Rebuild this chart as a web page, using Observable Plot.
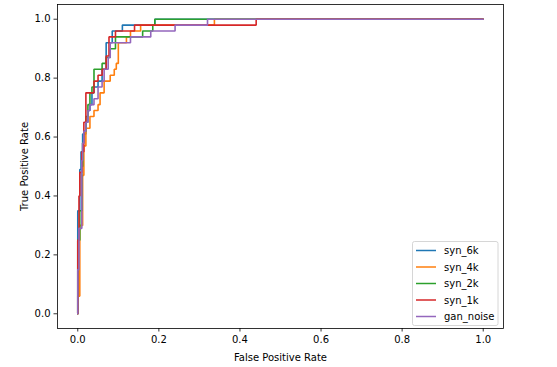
<!DOCTYPE html>
<html><head><meta charset="utf-8">
<script src="https://cdn.jsdelivr.net/npm/d3@7"></script>
<script src="https://cdn.jsdelivr.net/npm/@observablehq/plot@0.6"></script>
<style>body{margin:0;background:#fff}</style>
</head><body><div id="chart"></div>
<script>
const seriesNames = ["syn_6k", "syn_4k", "syn_2k", "syn_1k", "gan_noise"];
const seriesColors = ["#1f77b4", "#ff7f0e", "#2ca02c", "#d62728", "#9467bd"];
const tickValues = [0, 0.2, 0.4, 0.6, 0.8, 1.0];

const syn6kFpr = [0, 0, 0.005, 0.008, 0.012, 0.02, 0.025, 0.03, 0.035, 0.04, 0.05, 0.06, 0.07, 0.085, 0.11, 0.19, 1];
const syn6kTpr = [0, 0.35, 0.49, 0.55, 0.61, 0.65, 0.69, 0.71, 0.75, 0.77, 0.79, 0.83, 0.92, 0.96, 0.98, 1, 1];

const syn4kFpr = [0, 0, 0.005, 0.012, 0.015, 0.02, 0.03, 0.04, 0.05, 0.055, 0.065, 0.08, 0.09, 0.095, 0.1, 0.1, 0.12, 0.13, 0.155, 0.337, 1];
const syn4kTpr = [0, 0.06, 0.3, 0.47, 0.57, 0.63, 0.67, 0.69, 0.71, 0.75, 0.79, 0.81, 0.83, 0.85, 0.88, 0.92, 0.94, 0.96, 0.98, 1, 1];

const syn2kFpr = [0, 0, 0.005, 0.01, 0.012, 0.015, 0.02, 0.025, 0.03, 0.035, 0.04, 0.06, 0.07, 0.08, 0.093, 0.16, 0.185, 0.19, 1];
const syn2kTpr = [0, 0.25, 0.35, 0.5, 0.58, 0.62, 0.67, 0.71, 0.75, 0.77, 0.83, 0.85, 0.87, 0.9, 0.94, 0.96, 0.98, 1, 1];

const syn1kFpr = [0, 0, 0.003, 0.005, 0.01, 0.015, 0.02, 0.04, 0.05, 0.06, 0.07, 0.077, 0.093, 0.107, 0.14, 0.44, 1];
const syn1kTpr = [0, 0.25, 0.4, 0.48, 0.55, 0.65, 0.75, 0.79, 0.81, 0.83, 0.875, 0.94, 0.96, 0.96, 0.98, 1, 1];

const ganNoiseFpr = [0, 0, 0.003, 0.01, 0.012, 0.015, 0.02, 0.025, 0.03, 0.04, 0.05, 0.06, 0.065, 0.075, 0.08, 0.13, 0.18, 0.24, 0.32, 1];
const ganNoiseTpr = [0, 0.15, 0.29, 0.52, 0.58, 0.62, 0.65, 0.69, 0.71, 0.73, 0.77, 0.79, 0.83, 0.87, 0.92, 0.94, 0.96, 0.98, 1, 1];

const series = [
  {name: "syn_6k", fpr: syn6kFpr, tpr: syn6kTpr},
  {name: "syn_4k", fpr: syn4kFpr, tpr: syn4kTpr},
  {name: "syn_2k", fpr: syn2kFpr, tpr: syn2kTpr},
  {name: "syn_1k", fpr: syn1kFpr, tpr: syn1kTpr},
  {name: "gan_noise", fpr: ganNoiseFpr, tpr: ganNoiseTpr}
];
const tables = series.map(s => s.fpr.map((f, j) => ({name: s.name, fpr: f, tpr: s.tpr[j]})));

const fmt = d3.format(".1f");
const chart = Plot.plot({
  width: 557, height: 367,
  marginLeft: 57, marginRight: 54, marginTop: 4, marginBottom: 39,
  style: {fontFamily: "DejaVu Sans", fontSize: "10px", color: "#000", background: "#fff", overflow: "visible"},
  x: {domain: [-0.05, 1.05]},
  y: {domain: [-0.05, 1.05]},
  color: {domain: seriesNames, range: seriesColors},
  marks: [
    ...tables.map(t => Plot.line(t, {x: "fpr", y: "tpr", stroke: "name", curve: "step-after", strokeWidth: 1.6, strokeLinejoin: "miter"})),
    Plot.frame({stroke: "#000", strokeWidth: 0.8}),
    Plot.axisX({ticks: tickValues, tickFormat: fmt, tickSize: 3.5, tickPadding: 3.5, strokeWidth: 0.8, label: "False Positive Rate", labelAnchor: "center", labelArrow: "none", labelOffset: 32}),
    Plot.axisY({ticks: tickValues, tickFormat: fmt, tickSize: 3.5, tickPadding: 3.5, strokeWidth: 0.8, label: "True Positive Rate", labelAnchor: "center", labelArrow: "none", labelOffset: 37})
  ]
});
document.getElementById("chart").appendChild(chart);

// legend (matplotlib style, lower right inside axes)
const svg = d3.select(chart.tagName.toLowerCase() === "svg" ? chart : chart.querySelector("svg"));
const lg = svg.append("g").attr("font-family", "DejaVu Sans").attr("font-size", 10).attr("text-anchor", "start");
lg.append("rect").attr("x", 412.5).attr("y", 241.5).attr("width", 85.5).attr("height", 84)
  .attr("rx", 2).attr("fill", "#fff").attr("fill-opacity", 0.8).attr("stroke", "#cccccc").attr("stroke-width", 0.8);
seriesNames.forEach((n, i) => {
  const y = 250.5 + i * 16.5;
  lg.append("line").attr("x1", 416).attr("x2", 436).attr("y1", y).attr("y2", y)
    .attr("stroke", seriesColors[i]).attr("stroke-width", 1.5);
  lg.append("text").attr("x", 444).attr("y", y).attr("dy", "0.35em").attr("fill", "#000").attr("text-anchor", "start").text(n);
});
</script>
</body></html>
